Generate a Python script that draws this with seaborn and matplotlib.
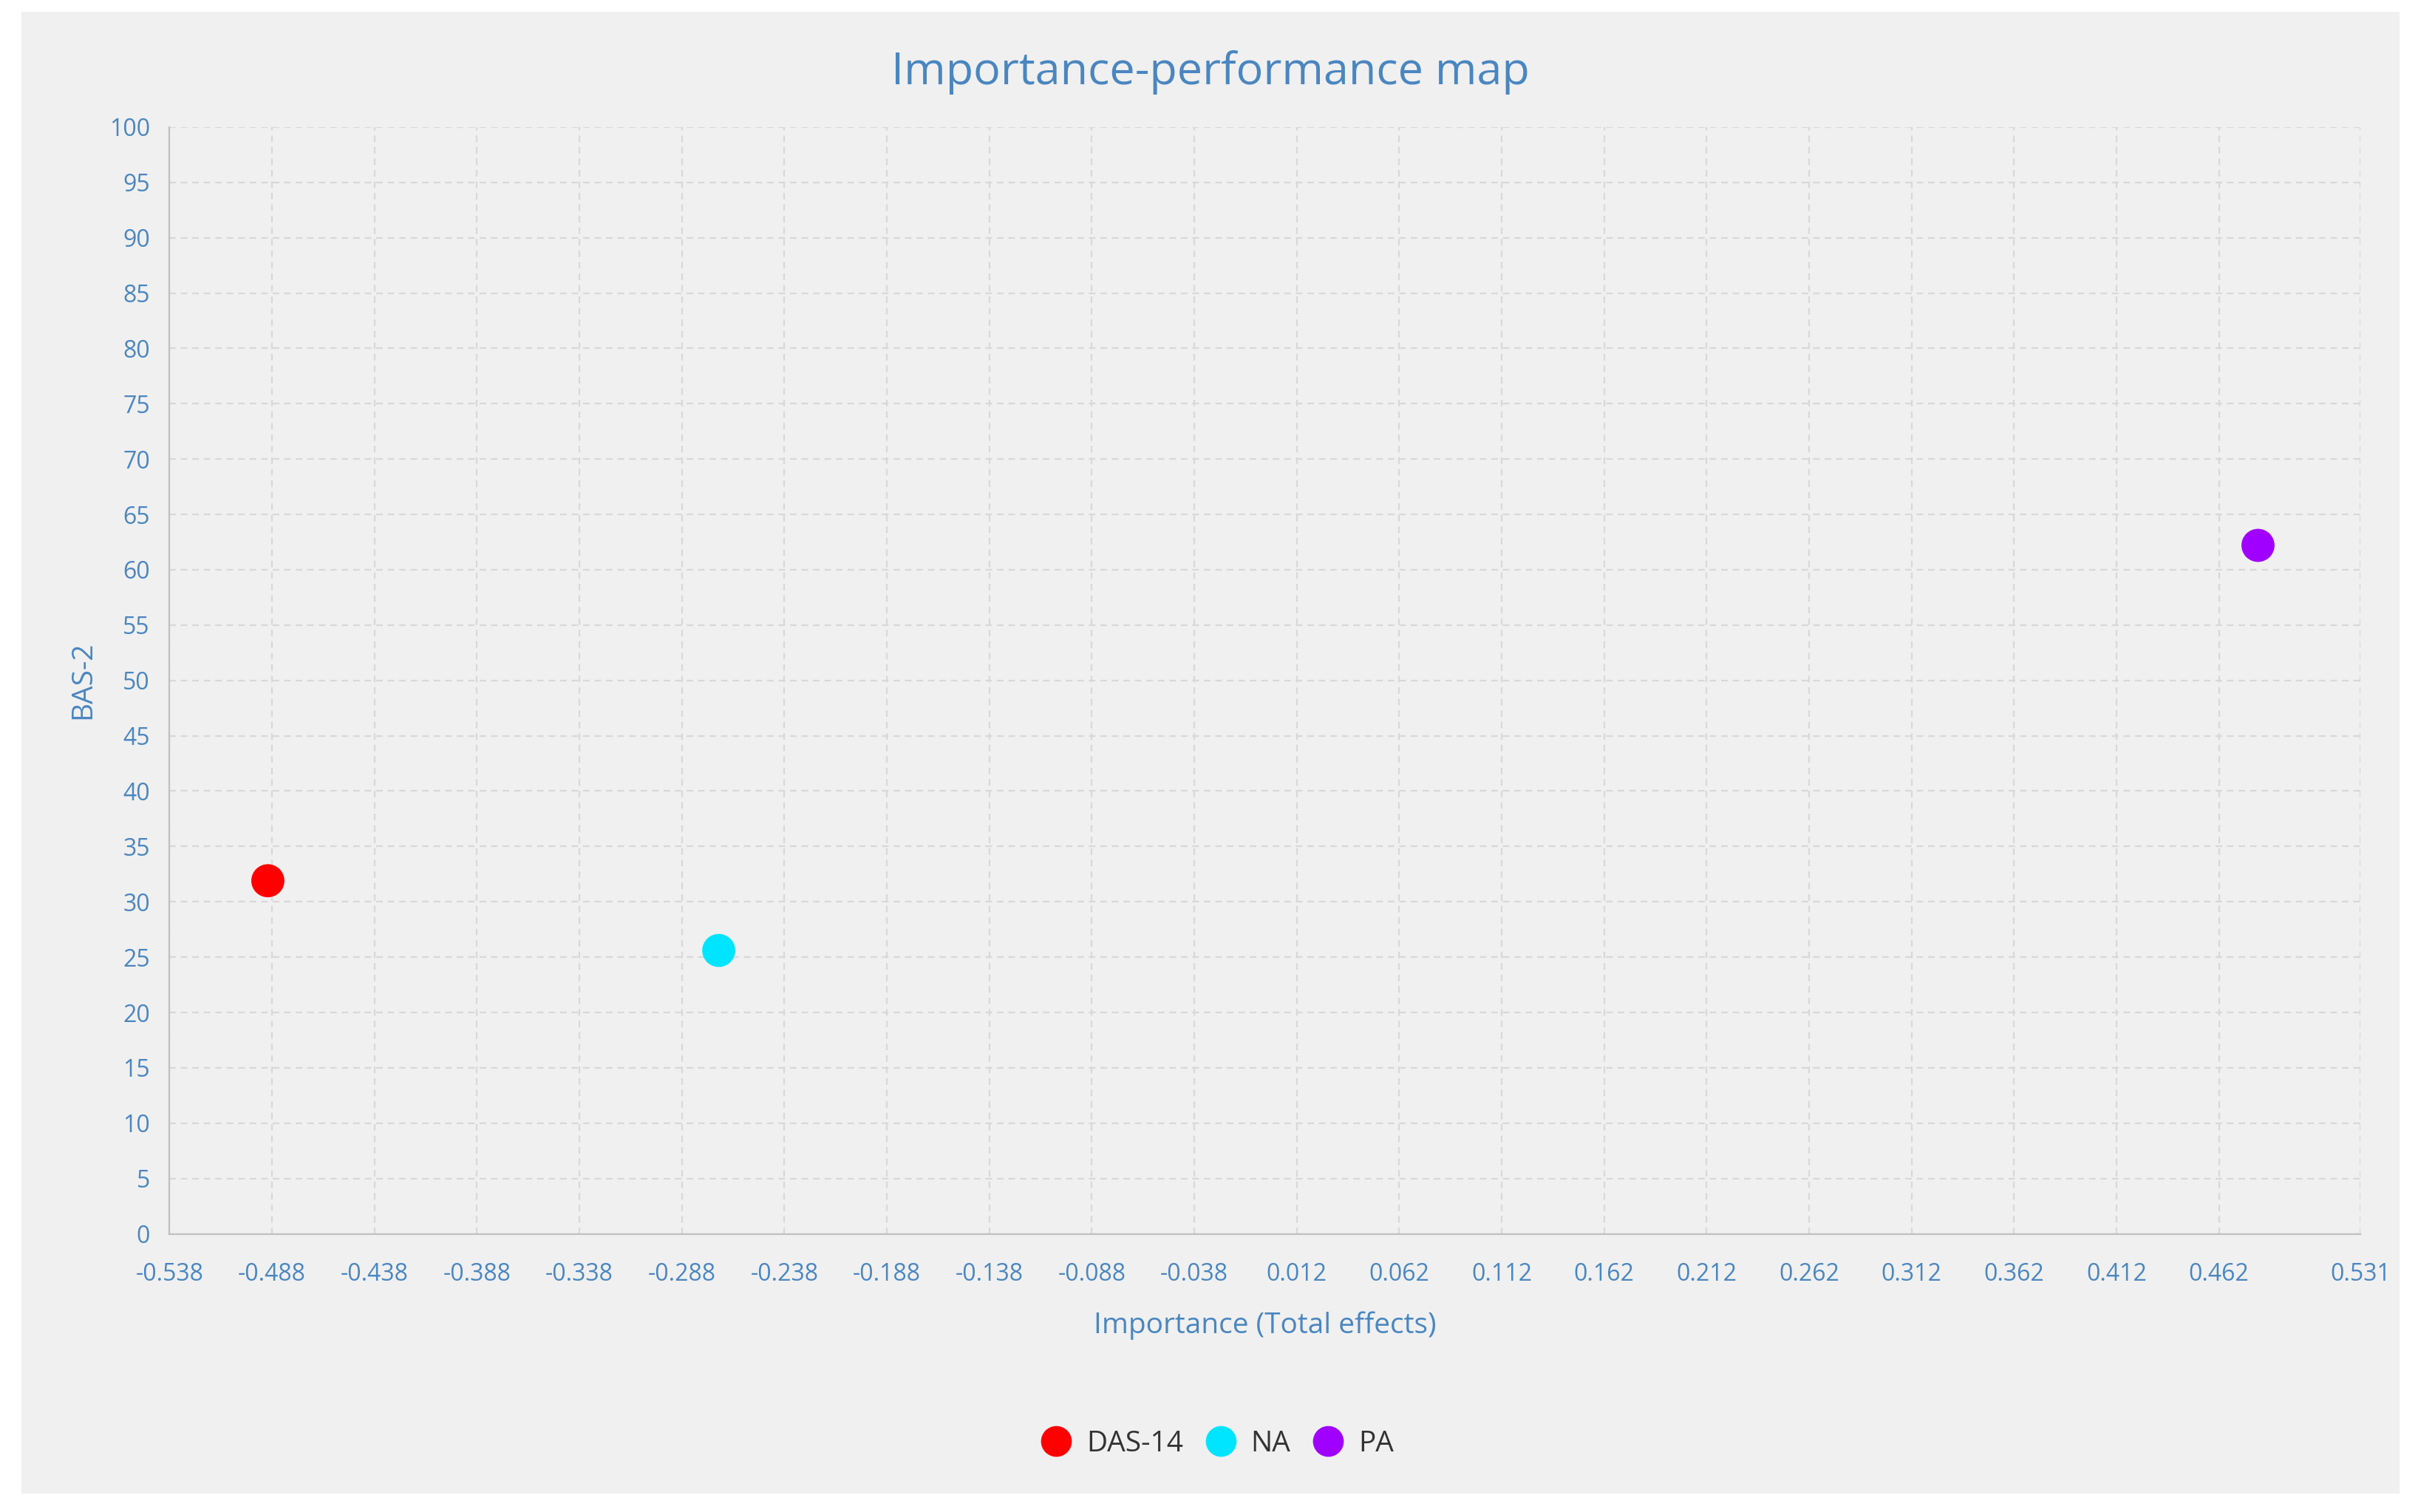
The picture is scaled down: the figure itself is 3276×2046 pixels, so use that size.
import numpy as np
import pandas as pd
import seaborn as sns
import matplotlib.pyplot as plt
from matplotlib.patches import Rectangle

# data
labels = ['DAS-14', 'NA', 'PA']
importance = [-0.490, -0.270, 0.481]
performance = [31.9, 25.6, 62.2]
colors = ['#ff0000', '#00e5ff', '#a000ff']

x_ticks = [-0.538, -0.488, -0.438, -0.388, -0.338, -0.288, -0.238, -0.188, -0.138,
           -0.088, -0.038, 0.012, 0.062, 0.112, 0.162, 0.212, 0.262, 0.312, 0.362,
           0.412, 0.462, 0.531]
y_ticks = list(range(0, 101, 5))

df = pd.DataFrame({'label': labels, 'x': importance, 'y': performance})

sns.set_style('white')
plt.rcParams['font.family'] = ['Open Sans', 'DejaVu Sans']
blue = '#4a86c0'
bg = '#f0f0f0'

fig = plt.figure(figsize=(16.38, 10.23), dpi=200, facecolor='white')
fig.patches.append(Rectangle((0.009, 0.012), 0.982, 0.98, transform=fig.transFigure,
                             facecolor=bg, edgecolor='none', zorder=-10))
ax = fig.add_axes([0.070, 0.184, 0.905, 0.732])
ax.set_facecolor(bg)

sns.scatterplot(data=df, x='x', y='y', hue='label', palette=colors, s=260,
                edgecolor='none', ax=ax, zorder=3, legend=False)

ax.set_xlim(-0.538, 0.531)
ax.set_ylim(0, 100)
ax.set_xticks(x_ticks)
ax.set_xticklabels([f'{t:.3f}' for t in x_ticks])
ax.set_yticks(y_ticks)
ax.grid(True, color='#d8d8d8', linestyle=(0, (4, 3)), linewidth=0.8)
for s in ['top', 'right']:
    ax.spines[s].set_visible(False)
for s in ['left', 'bottom']:
    ax.spines[s].set_color('#c0c0c0')
ax.tick_params(colors='#a0a0a0', labelcolor=blue, labelsize=11.5, length=6, direction='out')
ax.tick_params(axis='x', pad=8)

ax.set_xlabel('Importance (Total effects)', color=blue, fontsize=14, labelpad=12)
ax.set_ylabel('BAS-2', color=blue, fontsize=14, labelpad=6)
fig.text(0.5, 0.952, 'Importance-performance map', color=blue, fontsize=22,
         ha='center', va='center')

handles = [plt.Line2D([], [], marker='o', linestyle='none', markersize=15,
                      markerfacecolor=c, markeredgecolor='none') for c in colors]
fig.legend(handles, labels, loc='center', bbox_to_anchor=(0.5, 0.045), ncol=3,
           frameon=False, fontsize=14, handletextpad=0.05, columnspacing=0.3,
           labelcolor='#333333')

fig.savefig('out.png', dpi=200, facecolor='white')
